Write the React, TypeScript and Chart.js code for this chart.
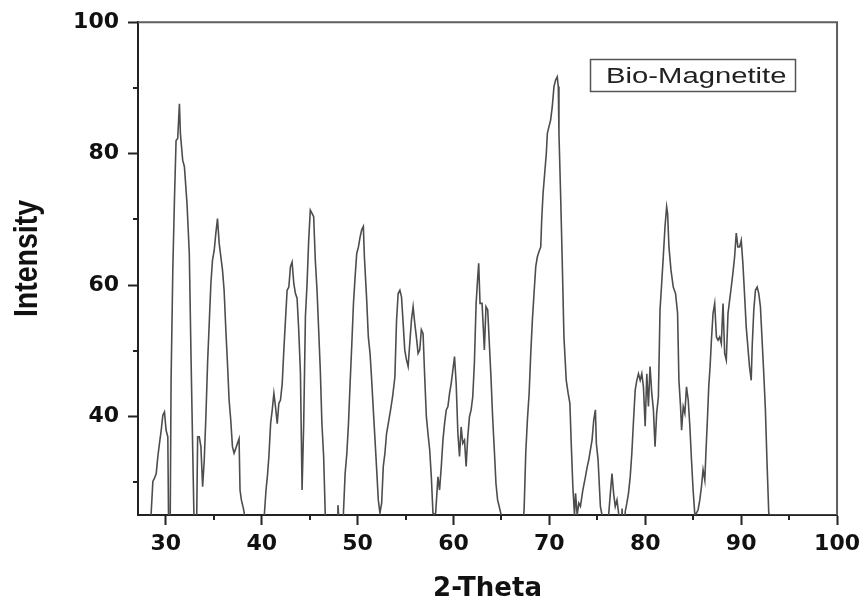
import { useEffect, useRef } from "react";
import { Chart, registerables } from "chart.js";

Chart.register(...registerables);

// Diffraction scan: 2θ positions (degrees) and measured intensity.
// Values below the axis minimum run off the bottom of the plot.
const twoTheta = [
  28.3, 28.48, 28.65, 28.82, 29.0, 29.17, 29.34, 29.52, 29.69, 29.86, 30.03, 30.21, 30.3, 30.45,
  30.55, 30.73, 30.9, 31.07, 31.24, 31.42, 31.52, 31.76, 31.94, 32.21, 32.45, 32.63, 32.8, 32.97,
  33.2, 33.32, 33.49, 33.66, 33.84, 34.01, 34.18, 34.36, 34.53, 34.7, 34.87, 35.05, 35.22, 35.39,
  35.57, 35.74, 35.91, 36.08, 36.26, 36.43, 36.6, 36.77, 36.95, 37.12, 37.29, 37.47, 37.64, 37.74,
  37.88, 38.09, 38.33, 38.5, 40.05, 40.25, 40.45,
  40.6, 40.75, 40.93, 41.1, 41.27, 41.44, 41.62, 41.79, 41.96, 42.14, 42.31, 42.48, 42.65, 42.83,
  43.0, 43.17, 43.35, 43.52, 43.69, 43.86, 44.04, 44.21, 44.38, 44.56, 44.73, 44.9, 45.07, 45.25,
  45.42, 45.59, 45.77, 45.94, 46.11, 46.28, 46.46, 46.63, 46.75, 47.8, 47.88, 47.95, 48.05, 48.1,
  48.45, 48.53, 48.7, 48.88, 49.05, 49.22, 49.4, 49.57, 49.74, 49.91, 50.09, 50.26, 50.43, 50.6,
  50.71, 50.95, 51.12, 51.3, 51.47, 51.64, 51.82, 51.99, 52.16, 52.33, 52.51, 52.68, 52.85, 53.02,
  53.2, 53.44, 53.65, 53.89,
  54.06, 54.23, 54.41, 54.58, 54.75, 54.92, 55.1, 55.27, 55.44, 55.62, 55.79, 55.96, 56.13, 56.31,
  56.48, 56.65, 56.83, 57.0, 57.17, 57.34, 57.52, 57.69, 57.86, 58.0, 58.14, 58.38, 58.55, 58.73,
  58.9, 59.07, 59.25, 59.42, 59.59, 59.76, 59.94, 60.11, 60.28, 60.46, 60.63, 60.8, 60.97, 61.15,
  61.32, 61.49, 61.67, 61.84, 62.01, 62.18, 62.36, 62.53, 62.63, 62.77, 62.98, 63.12, 63.22, 63.39,
  63.57, 63.67, 63.91, 64.08, 64.26, 64.43, 64.6, 64.85, 65.05, 65.2, 67.2, 67.37,
  67.54, 67.71, 67.89, 68.06, 68.23, 68.4, 68.58, 68.75, 68.92, 69.1, 69.2, 69.34, 69.54, 69.68,
  69.79, 69.96, 70.13, 70.3, 70.48, 70.65, 70.82, 70.93, 71.0, 71.17, 71.34, 71.52, 71.76, 71.96,
  72.14, 72.28, 72.45, 72.62, 72.73, 72.9, 73.07, 73.24, 73.49, 73.76, 73.94, 74.11, 74.28, 74.45,
  74.63, 74.8, 74.9, 75.08, 75.32, 75.49, 75.6, 76.1, 76.18, 76.36, 76.53, 76.7, 76.87, 77.05,
  77.22, 77.35, 77.5, 77.58, 77.68, 77.85, 77.91, 78.08, 78.25, 78.43, 78.6, 78.78, 78.95, 79.12,
  79.29, 79.47, 79.64, 79.81, 79.99, 80.16, 80.33, 80.5, 80.68, 80.85, 81.02,
  81.19, 81.37, 81.54, 81.71, 81.88, 82.06, 82.23, 82.33, 82.47, 82.68, 82.92, 83.16, 83.37, 83.51,
  83.68, 83.79, 83.96, 84.13, 84.3, 84.48, 84.65, 84.82, 84.99, 85.17, 85.34, 85.51, 85.69, 85.86,
  86.03, 86.21, 86.31, 86.48, 86.62, 86.76, 86.9, 87.07, 87.24, 87.42, 87.59, 87.76, 87.93, 88.11,
  88.28, 88.45, 88.63, 88.8, 88.97, 89.14, 89.32, 89.49, 89.66, 89.84, 90.01, 90.18, 90.35, 90.53,
  90.7, 90.87, 91.05, 91.15, 91.32, 91.49, 91.67, 91.84, 92.01, 92.15, 92.36, 92.53, 92.7, 92.88,
  93.0, 100.0,
];

const intensity = [
  22, 25.5, 30.1, 30.6, 31.3, 33.9, 35.9, 37.9, 40.2, 40.7, 37.9, 36.9, 22, 22,
  45.5, 62.3, 72.9, 82.0, 82.3, 87.6, 83.1, 79.0, 78.0, 72.4, 64.8, 49.1, 35.4, 22,
  22, 36.9, 36.9, 35.4, 29.3, 33.4, 40.0, 48.3, 54.2, 60.2, 63.8, 65.3, 67.9, 70.1,
  66.3, 64.3, 62.3, 59.2, 53.2, 48.1, 42.5, 39.5, 35.4, 34.4, 35.1, 35.9, 36.6, 28.8,
  27.3, 26.0, 24.0, 22, 22, 24.5, 28.8,
  31.0, 33.9, 38.9, 41.0, 43.5, 41.5, 38.9, 42.0, 42.5, 45.0, 50.1, 54.7, 59.2, 59.7,
  62.8, 63.5, 60.2, 58.7, 58.0, 53.2, 46.6, 28.8, 38.9, 55.2, 60.2, 66.8, 71.4, 70.9,
  70.4, 63.8, 59.2, 53.2, 47.1, 38.9, 33.9, 25.0, 22, 22, 24.5, 26.5, 24.5, 22,
  22, 25.5, 31.3, 34.4, 38.9, 45.0, 51.1, 57.2, 61.2, 64.8, 65.8, 67.3, 68.4, 68.9,
  64.3, 57.7, 52.1, 49.6, 45.5, 41.0, 36.4, 31.9, 27.3, 25.3, 26.8, 32.4, 34.4, 37.4,
  38.9, 41.0, 43.0, 46.0,
  54.5, 58.7, 59.2, 58.2, 54.2, 50.1, 48.6, 47.6, 51.1, 54.7, 56.7, 54.2, 52.1, 49.6,
  50.1, 53.2, 52.6, 46.0, 40.0, 37.4, 34.9, 30.8, 25.3, 25.1, 25.3, 30.8, 28.8, 32.4,
  36.4, 38.9, 41.0, 41.5, 43.5, 45.0, 47.1, 49.1, 45.0, 37.4, 33.9, 38.4, 35.9, 36.4,
  32.4, 36.9, 40.0, 41.0, 43.0, 48.1, 57.2, 61.2, 63.3, 57.2, 57.2, 53.2, 50.1, 56.7,
  56.2, 53.2, 46.0, 40.0, 34.9, 29.8, 27.3, 25.8, 24.5, 22, 22, 26.0,
  34.5, 39.5, 43.5, 49.6, 54.7, 58.7, 62.8, 64.3, 65.1, 65.8, 69.9, 73.9, 77.5, 80.0,
  83.1, 84.1, 85.1, 87.1, 90.2, 91.2, 91.7, 90.2, 83.1, 73.9, 63.8, 52.1, 45.5, 43.5,
  42.0, 35.9, 29.3, 25.0, 28.3, 25.0, 26.8, 26.3, 28.8, 30.8, 32.3, 33.4, 34.9, 36.4,
  39.5, 41.0, 35.9, 33.4, 26.3, 25.0, 22, 22, 25.0, 28.3, 31.3, 28.3, 26.3, 27.3,
  25.3, 22, 22, 26.0, 22, 22, 25.5, 26.8, 28.3, 30.8, 34.4, 39.5, 44.0, 45.5,
  46.5, 45.5, 46.5, 44.5, 38.5, 46.5, 41.5, 47.6, 43.5, 41.0, 35.4,
  40.5, 43.0, 56.2, 60.2, 64.3, 68.9, 71.9, 70.9, 65.8, 62.3, 59.7, 58.7, 55.7, 45.5,
  41.5, 37.9, 41.5, 40.5, 44.5, 42.5, 38.5, 33.4, 28.8, 25.0, 25.3, 25.8, 27.3, 29.3,
  31.9, 30.3, 33.9, 39.5, 44.5, 47.6, 51.6, 55.7, 57.2, 52.1, 51.6, 52.1, 51.1, 57.2,
  49.6, 48.6, 55.7, 57.7, 59.7, 61.8, 64.3, 67.9, 65.8, 65.8, 66.8, 63.3, 58.7, 53.6,
  50.6, 47.6, 45.5, 50.6, 56.2, 59.2, 59.7, 58.7, 56.7, 52.6, 46.5, 41.0, 32.9, 25.3,
  25.0, 25.0,
];

const seriesLabel = "Bio-Magnetite";
const xTitle = "2-Theta";
const yTitle = "Intensity";
const xRange = [27.1, 100];
const yRange = [25, 100];
const xMajorStep = 10;
const yMajorStep = 20;
const xMinorTicks = [35, 45, 55, 65, 75, 85, 95];
const yMinorTicks = [30, 50, 70, 90];

// Grey frame on the top/right sides plus the unlabeled minor tick marks.
const framePlugin = {
  id: "frameAndMinorTicks",
  afterDraw(chart: any) {
    const { ctx, chartArea: a, scales } = chart;
    ctx.save();
    ctx.lineCap = "butt";
    ctx.strokeStyle = "#5e5e5e";
    ctx.lineWidth = 2;
    ctx.beginPath();
    ctx.moveTo(a.left, a.top);
    ctx.lineTo(a.right, a.top);
    ctx.lineTo(a.right, a.bottom);
    ctx.stroke();

    ctx.strokeStyle = "#222";
    ctx.lineWidth = 2;
    ctx.beginPath();
    xMinorTicks.forEach((v) => {
      const px = Math.round(scales.x.getPixelForValue(v));
      ctx.moveTo(px, a.bottom);
      ctx.lineTo(px, a.bottom + 5);
    });
    yMinorTicks.forEach((v) => {
      const py = Math.round(scales.y.getPixelForValue(v));
      ctx.moveTo(a.left, py);
      ctx.lineTo(a.left - 5, py);
    });
    ctx.stroke();
    ctx.restore();
  },
};

// Boxed series label in the upper right of the plot.
const boxedLabelPlugin = {
  id: "boxedLabel",
  afterDraw(chart: any) {
    const { ctx } = chart;
    const label = chart.data.datasets[0].label as string;
    ctx.save();
    ctx.strokeStyle = "#555";
    ctx.lineWidth = 1.5;
    ctx.strokeRect(590.5, 59.5, 205, 32);
    ctx.translate(606, 83);
    ctx.scale(1.3, 1);
    ctx.font = "22.5px 'Liberation Sans', Arial, sans-serif";
    ctx.fillStyle = "#222";
    ctx.textAlign = "left";
    ctx.textBaseline = "alphabetic";
    ctx.fillText(label, 0, 0);
    ctx.restore();
  },
};

// Vertical axis title, rotated and a little wider across its glyphs.
const yTitlePlugin = {
  id: "yTitle",
  afterDraw(chart: any) {
    const { ctx } = chart;
    ctx.save();
    ctx.translate(37, 258.5);
    ctx.rotate(-Math.PI / 2);
    ctx.scale(1, 1.14);
    ctx.font = "bold 28.5px 'Liberation Sans', Arial, sans-serif";
    ctx.fillStyle = "#111";
    ctx.textAlign = "center";
    ctx.textBaseline = "alphabetic";
    ctx.fillText(yTitle, 0, 0);
    ctx.restore();
  },
};

export default function App() {
  const canvasRef = useRef<HTMLCanvasElement | null>(null);

  useEffect(() => {
    if (!canvasRef.current) return;
    const points = twoTheta.map((x, i) => ({ x, y: intensity[i] }));
    const tickFont = { family: "'DejaVu Sans', sans-serif", size: 22, weight: "bold" as const };

    const chart = new Chart(canvasRef.current, {
      type: "line",
      data: {
        datasets: [
          {
            label: seriesLabel,
            data: points,
            borderColor: "#4d4d4d",
            borderWidth: 1.6,
            pointRadius: 0,
            tension: 0,
            fill: false,
          },
        ],
      },
      options: {
        animation: false,
        responsive: false,
        devicePixelRatio: 1,
        layout: { padding: { top: 22, right: 25, bottom: 0, left: 0 } },
        plugins: {
          legend: { display: false },
          tooltip: { enabled: false },
        },
        scales: {
          x: {
            type: "linear",
            min: xRange[0],
            max: xRange[1],
            afterFit: (scale: any) => {
              scale.height = 84;
            },
            border: { display: true, color: "#222", width: 2 },
            grid: {
              display: true,
              drawOnChartArea: false,
              drawTicks: true,
              tickLength: 10,
              tickColor: "#222",
              tickWidth: 2,
            },
            ticks: {
              stepSize: xMajorStep,
              includeBounds: false,
              autoSkip: false,
              maxRotation: 0,
              padding: 6,
              color: "#111",
              font: tickFont,
            },
            title: {
              display: true,
              text: xTitle,
              color: "#111",
              font: { family: "'DejaVu Sans', sans-serif", size: 26, weight: "bold", lineHeight: 1 },
              padding: { top: 0, bottom: -3 },
            },
          },
          y: {
            type: "linear",
            min: yRange[0],
            max: yRange[1],
            afterFit: (scale: any) => {
              scale.width = 138;
            },
            border: { display: true, color: "#222", width: 2 },
            grid: {
              display: true,
              drawOnChartArea: false,
              drawTicks: true,
              tickLength: 10,
              tickColor: "#222",
              tickWidth: 2,
            },
            ticks: {
              stepSize: yMajorStep,
              includeBounds: false,
              autoSkip: false,
              padding: 9,
              color: "#111",
              font: tickFont,
            },
            title: { display: false },
          },
        },
      },
      plugins: [framePlugin, boxedLabelPlugin, yTitlePlugin],
    });

    return () => chart.destroy();
  }, []);

  return (
    <div style={{ position: "fixed", left: 0, top: 0, width: 866, height: 599, background: "#fff" }}>
      <canvas ref={canvasRef} width={866} height={599} style={{ width: 866, height: 599, display: "block" }} />
    </div>
  );
}
